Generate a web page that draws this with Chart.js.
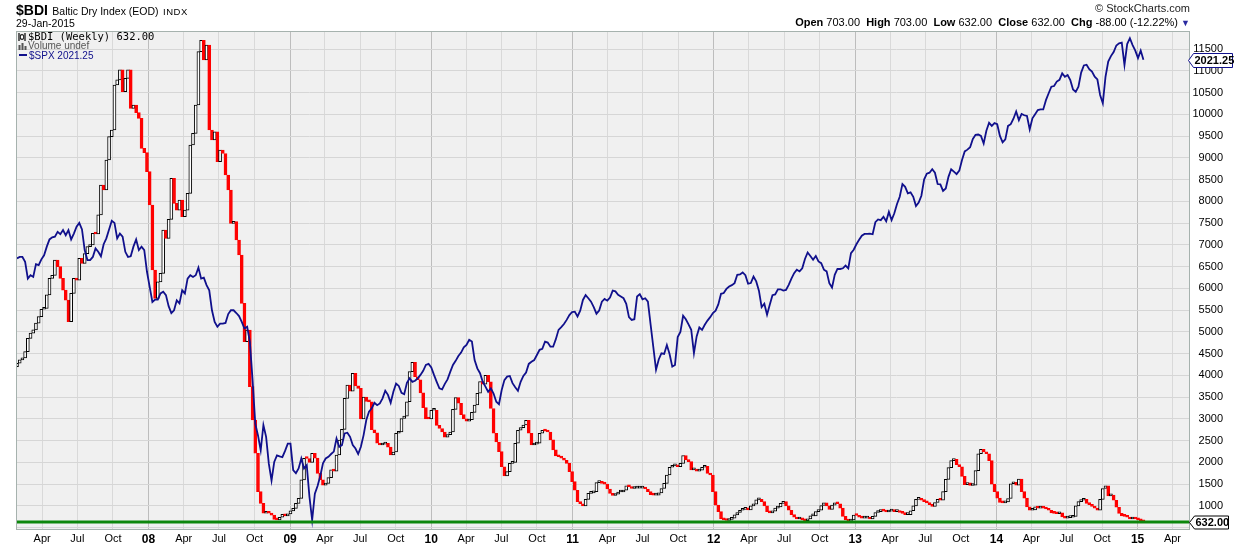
<!DOCTYPE html>
<html>
<head>
<meta charset="utf-8">
<title>$BDI Baltic Dry Index (EOD)</title>
<script src="https://cdn.jsdelivr.net/npm/chart.js@4.4.1/dist/chart.umd.min.js"></script>
<style>
  body { margin: 0; background: #fff; font-family: 'Liberation Sans', Arial, sans-serif; color: #000; }
  #wrap { position: relative; width: 1240px; height: 546px; overflow: hidden; }
  #chart { position: absolute; left: 0; top: 0; }
  .txt { position: absolute; white-space: nowrap; }
  .legend div { height: 10px; line-height: 10px; overflow: visible; }
  .ohlc b { font-weight: bold; }
</style>
</head>
<body>
<div id="wrap">
  <canvas id="chart" width="1240" height="546"></canvas>

  <div class="txt" style="left:16px;top:1px;line-height:17px">
    <b style="font-size:14px">$BDI</b>
    <span style="font-size:10.5px">Baltic Dry Index (EOD)</span>
    <span style="font-size:9.5px;letter-spacing:0.5px">INDX</span>
  </div>
  <div class="txt" style="left:16px;top:17px;font-size:10.5px;line-height:12px">29-Jan-2015</div>

  <div class="txt" style="right:50px;top:2px;font-size:11px;line-height:13px;color:#222">&#169; StockCharts.com</div>
  <div class="txt ohlc" style="right:50px;top:16px;font-size:11px;line-height:13px">
    <b>Open</b> 703.00&nbsp; <b>High</b> 703.00&nbsp; <b>Low</b> 632.00&nbsp; <b>Close</b> 632.00&nbsp; <b>Chg</b> -88.00 (-12.22%) <span style="color:#2a2aa0;font-size:9px">&#9660;</span>
  </div>

  <div class="txt legend" style="left:18px;top:31px">
    <div style="font-family:'DejaVu Sans Mono',monospace;font-size:10.5px">
      <svg width="10" height="8" style="vertical-align:-1px"><path d="M1 0v8M4 1v6M7 0v8" stroke="#000" stroke-width="1.2"/><rect x="2.5" y="2" width="3" height="4" fill="#fff" stroke="#000" stroke-width="0.8"/></svg>$BDI (Weekly) 632.00
    </div>
    <div style="font-size:10px;color:#555">
      <svg width="10" height="8" style="vertical-align:-1px"><path d="M1.5 8V3M4.5 8V1M7.5 8V4" stroke="#555" stroke-width="2"/></svg>Volume undef
    </div>
    <div style="font-size:10px;color:#10108c">
      <svg width="11" height="8" style="vertical-align:0"><path d="M1 4h8" stroke="#10108c" stroke-width="2"/></svg>$SPX 2021.25
    </div>
  </div>
</div>

<script>
// Weekly $BDI closes, Jan 2007 - Jan 2015
const bdiFirstOpen = 4200;
const bdiClose = [
  4280, 4355, 4400, 4545, 4850, 4970, 5045, 5200, 5350, 5520,
  5540, 5850, 6230, 6300, 6650, 6500, 6230, 5960, 5730, 5235,
  5885, 6230, 6190, 6690, 6575, 6800, 6960, 7000, 7265, 7250,
  7690, 8375, 8260, 8950, 9486, 9640, 10674, 10790, 11020, 10520,
  10827, 11020, 10138, 10215, 10040, 9908, 9218, 9120, 8683, 7916,
  6423, 5770, 6150, 6346, 7342, 7150, 7587, 8530, 7955, 7800,
  8032, 7648, 7800, 8185, 9295, 9563, 10215, 11440, 11700, 11250,
  11593, 9640, 9410, 9600, 8912, 9180, 9100, 8606, 8261, 7495,
  7533, 7112, 6768, 5657, 4776, 5044, 3742, 2976, 2210, 1329,
  1060, 831, 846, 831, 790, 693, 680, 740, 810, 770,
  815, 885,
  945, 1060, 1175, 1600, 2095, 2090, 2000, 2210, 2100, 1750,
  1600, 1480, 1520, 1650, 1830, 1800, 2170, 2516, 2760, 3473,
  3780, 3640, 4048, 3760, 3700, 3000, 3500, 3400, 3390, 2750,
  2680, 2440, 2400, 2420, 2440, 2350, 2170, 2240, 2670, 2700,
  3010, 3065, 3395, 4085, 4300, 3970, 3900, 3600, 3260, 3000,
  2999, 3200, 3200, 2850, 2780, 2700, 2580, 2640, 2700, 3220,
  3490, 3360, 3100, 3000, 2950, 2980, 3150, 3320, 3590, 3860,
  3800, 4000, 3850, 3240, 2670, 2470, 2250, 1900, 1690, 1790,
  1980, 2000, 2440, 2740, 2800, 2860, 2970, 2670, 2400, 2420,
  2440, 2670, 2740, 2720, 2700, 2520, 2290, 2150, 2130, 2100,
  2050, 1980, 1790, 1560,
  1360, 1100, 1050, 1000, 1150, 1290, 1300, 1330, 1535, 1540,
  1520, 1500, 1390, 1290, 1240, 1270, 1320, 1320, 1360, 1460,
  1440, 1400, 1410, 1410, 1410, 1420, 1390, 1330, 1260, 1250,
  1250, 1300, 1400, 1520, 1710, 1890, 1920, 1920, 1900, 1980,
  2160, 2060, 2020, 1830, 1840, 1800, 1820, 1890, 1910, 1750,
  1710, 1330, 1020, 870, 700, 680, 665, 690, 720, 795,
  850, 900, 920, 930, 910, 1000, 1040, 1140, 1150, 1100,
  1000, 870, 840, 880, 950, 980, 1060, 1100, 1000, 900,
  800, 740, 700, 700, 680, 660, 700, 770, 770, 870,
  900, 1010, 1070, 1000, 920, 1020, 1070, 1050, 950, 760,
  680, 650, 680, 790, 780, 740, 720, 720, 730,
  700, 760, 850, 870, 900, 880, 860, 880, 880, 870,
  870, 850, 830, 800, 800, 890, 1000, 1150, 1150, 1130,
  1100, 1070, 1030, 990, 1080, 1150, 1130, 1330, 1610, 1880,
  2040, 2070, 1950, 1900, 1680, 1490, 1530, 1470, 1480, 1810,
  2200, 2300, 2240, 2200, 2040, 1500, 1330, 1180, 1080, 1070,
  1090, 1170, 1510, 1540, 1480, 1620, 1330, 1180, 980, 900,
  910, 980, 950, 970, 950, 930, 900, 840, 830, 820,
  840, 750, 720, 730, 740, 760, 1000, 1100, 1130, 1150,
  1060, 1030, 990, 950, 900, 1150, 1400, 1460, 1230, 1250,
  1130, 970, 830, 770, 760, 740, 700, 720, 700, 680,
  660, 632
];

// Weekly $SPX closes for the same weeks (overlay line)
const spxClose = [
  1444, 1448, 1448, 1434, 1385, 1395, 1390, 1427, 1424, 1441,
  1453, 1478, 1499, 1505, 1507, 1521, 1514, 1526, 1511, 1526,
  1499, 1516, 1536, 1547, 1528, 1468, 1439, 1439, 1448, 1473,
  1463, 1450, 1485, 1502, 1528, 1553, 1547, 1502, 1516, 1507,
  1463, 1448, 1450, 1478, 1499, 1468, 1478, 1468, 1405, 1361,
  1317, 1324, 1324, 1342, 1347, 1337, 1305, 1285, 1293, 1322,
  1313, 1351, 1342, 1385, 1395, 1390, 1395, 1417, 1385, 1388,
  1366, 1351, 1293, 1259, 1245, 1254, 1254, 1256, 1282, 1293,
  1293, 1285, 1276, 1259, 1240, 1245, 1201, 1090, 963, 929,
  886, 959, 925, 847, 798, 852, 871, 868, 866, 884,
  905, 905,
  828, 819, 833, 862, 833, 843, 751, 683, 760, 782,
  811, 848, 862, 867, 875, 882, 920, 896, 901, 935,
  937, 925, 901, 891, 875, 896, 930, 974, 998, 1008,
  1024, 1017, 1022, 1037, 1059, 1047, 1024, 1056, 1080, 1073,
  1053, 1049, 1082, 1095, 1085, 1088, 1095, 1105, 1117, 1134,
  1137, 1127, 1105, 1085, 1066, 1063, 1079, 1092, 1114, 1134,
  1146, 1160, 1170, 1185, 1192, 1207, 1202, 1148, 1124, 1110,
  1085, 1071, 1056, 1066, 1051, 1027, 1020, 1061, 1090, 1100,
  1102, 1081, 1069, 1059, 1085, 1102, 1112, 1137, 1143, 1148,
  1163, 1178, 1181, 1202, 1199, 1187, 1187, 1209, 1236, 1244,
  1253, 1265, 1279, 1288,
  1289, 1275, 1292, 1323, 1337, 1328, 1318, 1302, 1283, 1292,
  1318, 1326, 1321, 1330, 1350, 1348, 1338, 1333, 1328, 1312,
  1273, 1265, 1267, 1333, 1340, 1325, 1328, 1318, 1251, 1186,
  1120, 1150, 1168, 1166, 1192, 1166, 1129, 1134, 1215, 1230,
  1277, 1267, 1252, 1236, 1168, 1217, 1243, 1236, 1251, 1263,
  1273, 1285, 1292, 1310, 1341, 1343, 1355, 1362, 1366, 1372,
  1396, 1397, 1403, 1395, 1370, 1372, 1391, 1377, 1350, 1302,
  1312, 1280, 1309, 1337, 1339, 1354, 1354, 1350, 1352, 1367,
  1385, 1401, 1411, 1406, 1415, 1442, 1461, 1451, 1440, 1451,
  1435, 1430, 1411, 1406, 1372, 1359, 1396, 1413, 1413, 1415,
  1423, 1415, 1459, 1469, 1485, 1498, 1510, 1515, 1515, 1516,
  1514, 1549, 1557, 1555, 1565, 1552, 1579, 1555, 1575, 1602,
  1623, 1660, 1652, 1633, 1636, 1623, 1596, 1606, 1626, 1673,
  1690, 1693, 1703, 1693, 1660, 1659, 1640, 1647, 1681, 1703,
  1696, 1689, 1699, 1730, 1755, 1760, 1767, 1791, 1803, 1804,
  1800, 1778, 1815, 1838, 1829, 1837, 1834, 1800, 1781, 1790,
  1829, 1834, 1850, 1871, 1846, 1864, 1860, 1858, 1819, 1851,
  1863, 1875, 1877, 1877, 1904, 1924, 1943, 1945, 1958, 1963,
  1982, 1972, 1977, 1962, 1935, 1928, 1943, 1984, 2005, 2007,
  1994, 1987, 1972, 1964, 1919, 1895, 1972, 2016, 2032, 2044,
  2063, 2069, 2071, 2006, 2067, 2084, 2064, 2048, 2026, 2048,
  2021.25
];

// x axis labels, one per quarter starting Apr 2007
const tickLabels = [
  'Apr', 'Jul', 'Oct', '08', 'Apr', 'Jul', 'Oct', '09', 'Apr', 'Jul', 'Oct',
  '10', 'Apr', 'Jul', 'Oct', '11', 'Apr', 'Jul', 'Oct', '12', 'Apr', 'Jul', 'Oct',
  '13', 'Apr', 'Jul', 'Oct', '14', 'Apr', 'Jul', 'Oct', '15', 'Apr'
];
const bdiGridValues = [500, 1000, 1500, 2000, 2500, 3000, 3500, 4000, 4500, 5000, 5500, 6000,
  6500, 7000, 7500, 8000, 8500, 9000, 9500, 10000, 10500, 11000, 11500];
const bdiLast = 632;
const spxLast = 2021.25;

// week 0 of the series; quarter ticks are placed in week units
const weekBase = Date.UTC(2007, 0, 26);
const weekMs = 7 * 864e5;
const tickPos = tickLabels.map((lab, k) => {
  const q = k + 1;
  return (Date.UTC(2007 + Math.floor(q / 4), (q % 4) * 3, 1) - weekBase) / weekMs;
});
const isYear = idx => /^\d/.test(tickLabels[idx] || '');

const candles = bdiClose.map((c, i) => ({ x: i, y: [i ? bdiClose[i - 1] : bdiFirstOpen, c] }));
const spxPoints = spxClose.map((v, i) => ({ x: i, y: v }));
const isUp = ctx => ctx.raw && ctx.raw.y[1] >= ctx.raw.y[0];

Chart.defaults.font.family = "'Liberation Sans', Arial, sans-serif";
Chart.defaults.color = '#000';

function priceTag(ctx, y, x0, x1, h, text, stroke) {
  ctx.beginPath();
  ctx.moveTo(x0, y);
  ctx.lineTo(x0 + 5, y - h / 2);
  ctx.lineTo(x1, y - h / 2);
  ctx.lineTo(x1, y + h / 2);
  ctx.lineTo(x0 + 5, y + h / 2);
  ctx.closePath();
  ctx.fillStyle = '#fff';
  ctx.fill();
  ctx.strokeStyle = stroke;
  ctx.lineWidth = 1;
  ctx.stroke();
  ctx.fillStyle = '#000';
  ctx.font = "bold 11px 'Liberation Sans', Arial, sans-serif";
  ctx.textAlign = 'left';
  ctx.textBaseline = 'middle';
  ctx.fillText(text, x0 + 6, y + 0.5);
}

const decorations = {
  id: 'decorations',
  beforeDraw(chart) {
    const { ctx, chartArea: a } = chart;
    ctx.save();
    ctx.fillStyle = '#fff';
    ctx.fillRect(0, 0, chart.width, chart.height);
    ctx.fillStyle = '#f0f0f0';
    ctx.fillRect(a.left, a.top, a.right - a.left, a.bottom - a.top);
    ctx.restore();
  },
  afterDatasetsDraw(chart) {
    const { ctx, chartArea: a } = chart;
    const y = Math.round(chart.scales.y.getPixelForValue(bdiLast));
    ctx.save();
    ctx.strokeStyle = '#0c870c';
    ctx.lineWidth = 3;
    ctx.beginPath();
    ctx.moveTo(a.left, y);
    ctx.lineTo(a.right, y);
    ctx.stroke();
    ctx.restore();
  },
  afterDraw(chart) {
    const { ctx, chartArea: a } = chart;
    ctx.save();
    ctx.strokeStyle = '#a6b2ae';
    ctx.lineWidth = 1;
    ctx.strokeRect(a.left + 0.5, a.top + 0.5, a.right - a.left - 1, a.bottom - a.top);
    priceTag(ctx, Math.round(chart.scales.y2.getPixelForValue(spxLast)) + 0.5, 1188.5, 1232.5, 14, spxLast.toFixed(2), '#10108c');
    priceTag(ctx, Math.round(chart.scales.y.getPixelForValue(bdiLast)) + 0.5, 1189.5, 1228.5, 13, bdiLast.toFixed(2), '#000');
    ctx.restore();
  }
};

new Chart(document.getElementById('chart'), {
  type: 'bar',
  data: {
    datasets: [
      {
        type: 'line',
        label: '$SPX',
        data: spxPoints,
        yAxisID: 'y2',
        borderColor: '#10108c',
        borderWidth: 1.8,
        pointRadius: 0,
        tension: 0,
        order: 0
      },
      {
        type: 'bar',
        label: '$BDI',
        data: candles,
        yAxisID: 'y',
        backgroundColor: ctx => isUp(ctx) ? '#ffffff' : '#ff0000',
        borderColor: ctx => isUp(ctx) ? '#000000' : '#ff0000',
        borderWidth: 1,
        borderSkipped: false,
        barThickness: 3,
        minBarLength: 2,
        grouped: false,
        order: 1
      }
    ]
  },
  options: {
    responsive: false,
    animation: false,
    events: [],
    layout: { padding: { left: 16, top: 31, right: 17, bottom: 0 } },
    plugins: {
      legend: { display: false },
      tooltip: { enabled: false }
    },
    scales: {
      x: {
        type: 'linear',
        min: -0.37,
        max: 433.2,
        offset: false,
        afterBuildTicks: s => { s.ticks = tickPos.map(v => ({ value: v })); },
        afterFit: s => { s.height = 17; },
        grid: {
          offset: false,
          drawTicks: false,
          color: ctx => isYear(ctx.index) ? '#bdbdbd' : '#d9d9d9'
        },
        border: { display: false },
        ticks: {
          autoSkip: false,
          maxRotation: 0,
          minRotation: 0,
          padding: 3,
          callback: (v, idx) => tickLabels[idx],
          font: ctx => ({ size: isYear(ctx.index) ? 12 : 11, weight: isYear(ctx.index) ? 'bold' : 'normal' })
        }
      },
      y: {
        type: 'linear',
        position: 'right',
        min: 470,
        max: 11915,
        afterBuildTicks: s => { s.ticks = bdiGridValues.map(v => ({ value: v })); },
        afterFit: s => { s.width = 33; },
        grid: { color: '#d6d6d6', drawTicks: false },
        border: { display: false },
        ticks: {
          crossAlign: 'far',
          padding: 3,
          font: { size: 11 },
          callback: v => v >= 1000 ? String(v) : ''
        }
      },
      y2: {
        type: 'linear',
        display: false,
        min: 657,
        max: 2105
      }
    }
  },
  plugins: [decorations]
});
</script>
</body>
</html>
